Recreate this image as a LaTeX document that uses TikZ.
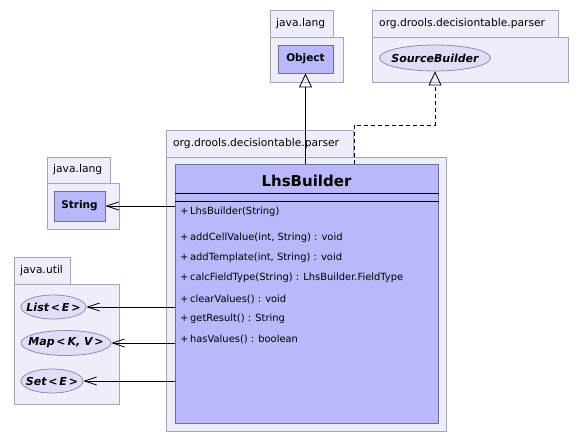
\documentclass[tikz,border=0pt]{standalone}
\usepackage{fontspec}
\setmainfont{DejaVu Sans}
\usetikzlibrary{arrows.meta,shapes.geometric}
\definecolor{pkgfill}{RGB}{238,238,250}
\definecolor{pkgline}{RGB}{165,165,185}
\definecolor{clsfill}{RGB}{184,184,250}
\definecolor{clsline}{RGB}{110,110,150}
\definecolor{ellfill}{RGB}{222,222,248}
\definecolor{ellline}{RGB}{140,140,175}
\begin{document}
\begin{tikzpicture}[x=1pt,y=-1pt,
  pkg/.style={draw=pkgline, fill=pkgfill, line width=0.9pt, anchor=north west, inner sep=0pt},
  pkglabel/.style={anchor=west, inner sep=0pt, font=\fontsize{10.7}{12}\selectfont},
  cls/.style={draw=clsline, fill=clsfill, line width=0.9pt, inner sep=0pt, font=\fontsize{10.5}{12}\selectfont\bfseries},
  iface/.style={ellipse, draw=ellline, fill=ellfill, line width=0.8pt, inner sep=0pt},
  ifacetext/.style={inner sep=0pt, font=\fontsize{11}{12}\selectfont\bfseries\itshape},
  member/.style={anchor=west, inner sep=0pt, font=\fontsize{9.9}{11}\selectfont},
  gen/.style={line width=0.8pt, -{Triangle[open,length=14pt,width=13pt]}},
  dep/.style={line width=0.8pt, -{Straight Barb[length=12pt,width=8pt]}}
]
\useasboundingbox (0,0) rectangle (582,442);

% top java.lang
\node[pkg, minimum width=63pt, minimum height=27pt] (jltab) at (270,10) {};
\node[pkg, minimum width=73pt, minimum height=45pt] (jlbody) at (270,37) {};
\node[pkglabel] (jllab) at (276,24) {java.lang};
\node[cls, minimum width=55pt, minimum height=28pt] (obj) at (305.5,59) {Object};

% top org.drools.decisiontable.parser
\node[pkg, minimum width=186pt, minimum height=27pt] (sptab) at (372,10) {};
\node[pkg, minimum width=196pt, minimum height=45pt] (spbody) at (372,37) {};
\node[pkglabel] (splab) at (379,24) {org.drools.decisiontable.parser};
\node[iface, minimum width=111pt, minimum height=26pt] (sb) at (435,58) {};
\node[ifacetext] (sbt) at (sb.center) {SourceBuilder};

% main package
\node[pkg, minimum width=187pt, minimum height=27pt] (mtab) at (166,130) {};
\node[pkg, minimum width=280pt, minimum height=274pt] (mbody) at (166,157) {};
\node[pkglabel] (mlab) at (173,144) {org.drools.decisiontable.parser};
\node[draw=clsline, fill=clsfill, line width=0.9pt, inner sep=0pt, anchor=north west,
      minimum width=263pt, minimum height=259pt] (lhs) at (175,164) {};
\node[inner sep=0pt, font=\fontsize{15}{17}\selectfont\bfseries] (title) at (306.5,181) {LhsBuilder};
\draw[line width=0.8pt] (lhs.west |- 0,193) -- (lhs.east |- 0,193);
\draw[line width=0.8pt] (lhs.west |- 0,201) -- (lhs.east |- 0,201);
\node[member] (m1) at (180,212) {+\,LhsBuilder(String)};
\node[member] (m2) at (180,238) {+\,addCellValue(int, String) : void};
\node[member] (m3) at (180,258) {+\,addTemplate(int, String) : void};
\node[member] (m4) at (180,278) {+\,calcFieldType(String) : LhsBuilder.FieldType};
\node[member] (m5) at (180,299) {+\,clearValues() : void};
\node[member] (m6) at (180,319) {+\,getResult() : String};
\node[member] (m7) at (180,339) {+\,hasValues() : boolean};

% left java.lang
\node[pkg, minimum width=63pt, minimum height=26pt] (jl2tab) at (47,157) {};
\node[pkg, minimum width=72pt, minimum height=46pt] (jl2body) at (47,183) {};
\node[pkglabel] (jl2lab) at (53,170) {java.lang};
\node[cls, minimum width=51pt, minimum height=30pt] (str) at (79.5,206) {String};

% java.util
\node[pkg, minimum width=56pt, minimum height=27pt] (jutab) at (14,257) {};
\node[pkg, minimum width=105pt, minimum height=120pt] (jubody) at (14,284) {};
\node[pkglabel] (julab) at (20,271) {java.util};
\node[iface, minimum width=65pt, minimum height=24pt] (list) at (53.5,307) {};
\node[ifacetext] (listt) at (list.center) {List\,<\,E\,>};
\node[iface, minimum width=90pt, minimum height=25pt] (map) at (66,343) {};
\node[ifacetext] (mapt) at (map.center) {Map\,<\,K, V\,>};
\node[iface, minimum width=62pt, minimum height=24pt] (set) at (52,381) {};
\node[ifacetext] (sett) at (set.center) {Set\,<\,E\,>};

% connectors
\draw[gen] (lhs.north -| obj.south) -- (obj.south);
\draw[gen, dash pattern=on 4pt off 3pt] (lhs.north -| mtab.east) -- ++(0,-39) -| (sb.south);
\draw[dep] (lhs.west |- str.east) -- (str.east);
\draw[dep] (lhs.west |- list.east) -- (list.east);
\draw[dep] (lhs.west |- map.east) -- (map.east);
\draw[dep] (lhs.west |- set.east) -- (set.east);
\end{tikzpicture}
\end{document}
